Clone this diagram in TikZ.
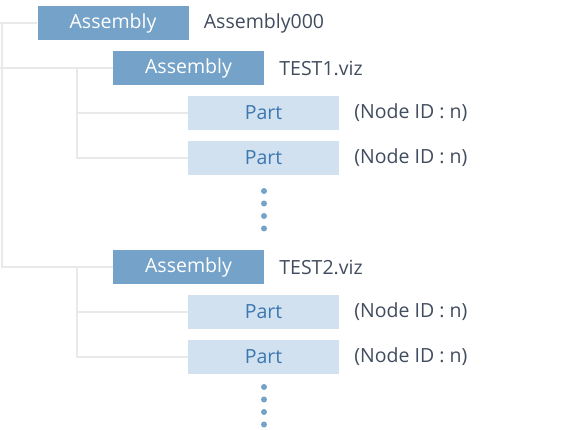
\documentclass[tikz,border=0pt]{standalone}
\usepackage{fontspec}
\setmainfont{Open Sans}
\usetikzlibrary{positioning}

\definecolor{asmblue}{HTML}{74A2C8}
\definecolor{partblue}{HTML}{D2E1F0}
\definecolor{parttext}{HTML}{3B77B0}
\definecolor{sidetext}{HTML}{414C5E}
\definecolor{treegray}{HTML}{E9E9E9}

\tikzstyle{asm} = [fill=asmblue, text=white, minimum width=151pt, minimum height=34pt, inner sep=0pt]
\tikzstyle{part} = [fill=partblue, text=parttext, minimum width=151pt, minimum height=34pt, inner sep=0pt]
\tikzstyle{info} = [text=sidetext, inner xsep=0pt, right=15pt of #1]
\tikzstyle{branch} = [draw=treegray, line width=1.3pt]
\tikzstyle{dot} = [fill=asmblue]

\begin{document}
\begin{tikzpicture}[x=1pt, y=-1pt, font=\fontsize{19.5}{21}\selectfont]
\useasboundingbox (0,0) rectangle (565,430);

% tree lines
\coordinate (trunk) at (2,23);
\coordinate (fork1) at (77,68);
\coordinate (fork2) at (77,267);

\node[asm] (root) at (113,23) {Assembly};
\node[info=root] (rootinfo) {Assembly000};

\node[asm] (asm1) at (188.5,68) {Assembly};
\node[info=asm1] (asm1info) {TEST1.viz};
\node[part] (part1) at (263.5,113) {Part};
\node[info=part1] (part1info) {(Node ID : n)};
\node[part] (part2) at (263.5,158) {Part};
\node[info=part2] (part2info) {(Node ID : n)};

\node[asm] (asm2) at (188.5,267) {Assembly};
\node[info=asm2] (asm2info) {TEST2.viz};
\node[part] (part3) at (263.5,312) {Part};
\node[info=part3] (part3info) {(Node ID : n)};
\node[part] (part4) at (263.5,357) {Part};
\node[info=part4] (part4info) {(Node ID : n)};

\draw[branch] (root.west) -- ([xshift=-2pt]trunk) -- (trunk) |- (asm2.west);
\draw[branch] ([xshift=-2pt]trunk |- asm1.west) -- (asm1.west);
\draw[branch] (fork1) |- (part1.west);
\draw[branch] (fork1) |- (part2.west);
\draw[branch] (fork2) |- (part3.west);
\draw[branch] (fork2) |- (part4.west);

% more parts
\foreach \y in {191,203.5,216,228.5} {
  \fill[dot] (264,\y) circle (3pt);
}
\foreach \y in {387,399.5,412,424.5} {
  \fill[dot] (264,\y) circle (3pt);
}
\end{tikzpicture}
\end{document}
